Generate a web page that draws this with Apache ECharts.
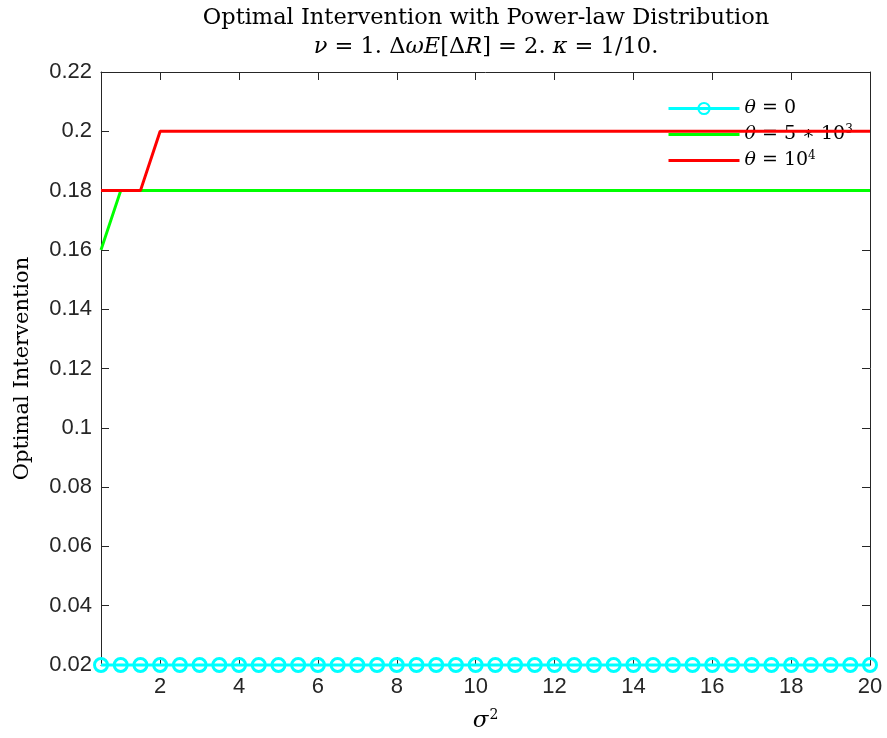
<!DOCTYPE html>
<html>
<head>
<meta charset="utf-8">
<script src="https://cdn.jsdelivr.net/npm/echarts@6/dist/echarts.min.js"></script>
<style>
  html, body { margin: 0; padding: 0; background: #fff; }
  #chart { width: 887px; height: 738px; }
</style>
</head>
<body>
<div id="chart"></div>
<script>
// sigma^2 values
var sigma2 = [0.5, 1, 1.5, 2, 2.5, 3, 3.5, 4, 4.5, 5, 5.5, 6, 6.5, 7, 7.5, 8, 8.5, 9, 9.5, 10,
    10.5, 11, 11.5, 12, 12.5, 13, 13.5, 14, 14.5, 15, 15.5, 16, 16.5, 17, 17.5, 18, 18.5, 19, 19.5, 20];
var theta0 = [0.02, 0.02, 0.02, 0.02, 0.02, 0.02, 0.02, 0.02, 0.02, 0.02, 0.02, 0.02, 0.02, 0.02, 0.02, 0.02, 0.02, 0.02, 0.02, 0.02,
    0.02, 0.02, 0.02, 0.02, 0.02, 0.02, 0.02, 0.02, 0.02, 0.02, 0.02, 0.02, 0.02, 0.02, 0.02, 0.02, 0.02, 0.02, 0.02, 0.02];
var theta5e3 = [0.16, 0.18, 0.18, 0.18, 0.18, 0.18, 0.18, 0.18, 0.18, 0.18, 0.18, 0.18, 0.18, 0.18, 0.18, 0.18, 0.18, 0.18, 0.18, 0.18,
    0.18, 0.18, 0.18, 0.18, 0.18, 0.18, 0.18, 0.18, 0.18, 0.18, 0.18, 0.18, 0.18, 0.18, 0.18, 0.18, 0.18, 0.18, 0.18, 0.18];
var theta1e4 = [0.18, 0.18, 0.18, 0.2, 0.2, 0.2, 0.2, 0.2, 0.2, 0.2, 0.2, 0.2, 0.2, 0.2, 0.2, 0.2, 0.2, 0.2, 0.2, 0.2,
    0.2, 0.2, 0.2, 0.2, 0.2, 0.2, 0.2, 0.2, 0.2, 0.2, 0.2, 0.2, 0.2, 0.2, 0.2, 0.2, 0.2, 0.2, 0.2, 0.2];
var xTicks = [2, 4, 6, 8, 10, 12, 14, 16, 18, 20];
var seriesNames = ['θ = 0', 'θ = 5∗10³', 'θ = 10⁴'];
// legend text with italic theta and superscripts
var legendRich = {
    'θ = 0': '{i|θ} = 0',
    'θ = 5∗10³': '{i|θ} = 5 ∗ 10{s|3}',
    'θ = 10⁴': '{i|θ} = 10{s|4}'
};

function pairs(ys) {
    return sigma2.map(function (x, i) { return [x, ys[i]]; });
}

var axisCol = '#262626';
var serif = '"DejaVu Serif", "Liberation Serif", serif';
var sans = '"Liberation Sans", Arial, sans-serif';

var chart = echarts.init(document.getElementById('chart'));

var xBase = {
    type: 'value',
    min: 0.5,
    max: 20,
    axisLine: {show: true, onZero: false, lineStyle: {color: axisCol, width: 1}},
    axisTick: {show: true, inside: true, length: 8, customValues: xTicks, lineStyle: {color: axisCol}},
    splitLine: {show: false}
};
var yBase = {
    type: 'value',
    min: 0.02,
    max: 0.22,
    interval: 0.02,
    axisLine: {show: true, onZero: false, lineStyle: {color: axisCol, width: 1}},
    axisTick: {show: true, inside: true, length: 8, lineStyle: {color: axisCol}},
    splitLine: {show: false}
};

var option = {
    backgroundColor: '#fff',
    animation: false,
    grid: {left: 101, right: 17, top: 72, bottom: 73, containLabel: false, outerBoundsMode: 'none'},
    graphic: [
        {
            type: 'text', x: 486, y: 7,
            style: {
                text: 'Optimal Intervention with Power-law Distribution',
                font: '22.5px ' + serif, fill: '#000', align: 'center'
            }
        },
        {
            type: 'text', x: 486, y: 36,
            style: {
                text: '{i|ν} = 1. Δ{i|ωE}[Δ{i|R}] = 2. {i|κ} = 1/10.',
                font: '22.5px ' + serif, fill: '#000', align: 'center',
                rich: {i: {fontStyle: 'italic', fontSize: 22.5, fontFamily: serif}}
            }
        }
    ],
    legend: {
        orient: 'vertical',
        left: 662,
        top: 93,
        z: 1,
        itemWidth: 71,
        itemHeight: 14,
        itemGap: 5,
        lineStyle: {width: 3},
        formatter: function (name) { return legendRich[name]; },
        textStyle: {
            fontFamily: serif, fontSize: 19, color: '#000', lineHeight: 21,
            rich: {
                i: {fontStyle: 'italic', fontFamily: serif, fontSize: 19},
                s: {fontFamily: serif, fontSize: 12, verticalAlign: 'top', padding: [0, 0, 10, 0]}
            }
        },
        data: [
            {name: seriesNames[0]},
            {name: seriesNames[1], itemStyle: {opacity: 0}},
            {name: seriesNames[2], itemStyle: {opacity: 0}}
        ]
    },
    xAxis: [
        Object.assign({}, xBase, {
            position: 'bottom',
            name: '{s|σ}{p|2}',
            nameLocation: 'middle',
            nameGap: 43,
            nameTextStyle: {
                rich: {
                    s: {fontFamily: serif, fontSize: 23, fontStyle: 'italic', color: '#000'},
                    p: {fontFamily: serif, fontSize: 14, color: '#000', verticalAlign: 'top', padding: [0, 0, 12, 1]}
                }
            },
            axisLabel: {show: true, customValues: xTicks, fontFamily: sans, fontSize: 22, color: axisCol, margin: 11}
        }),
        Object.assign({}, xBase, {position: 'top', axisLabel: {show: false}})
    ],
    yAxis: [
        Object.assign({}, yBase, {
            position: 'left',
            name: 'Optimal Intervention',
            nameLocation: 'middle',
            nameGap: 68,
            nameTextStyle: {fontFamily: serif, fontSize: 21, color: '#000'},
            axisLabel: {
                show: true, fontFamily: sans, fontSize: 22, color: axisCol, margin: 9,
                formatter: function (v) { return String(+v.toFixed(2)); }
            }
        }),
        Object.assign({}, yBase, {position: 'right', axisLabel: {show: false}})
    ],
    series: [
        {
            name: seriesNames[0],
            type: 'line',
            data: pairs(theta0),
            clip: false,
            symbol: 'circle',
            symbolSize: 13,
            showSymbol: true,
            lineStyle: {color: '#00ffff', width: 3},
            itemStyle: {color: 'rgba(255,255,255,0)', borderColor: '#00ffff', borderWidth: 3},
            z: 3
        },
        {
            name: seriesNames[1],
            type: 'line',
            data: pairs(theta5e3),
            showSymbol: false,
            symbol: 'none',
            lineStyle: {color: '#00ff00', width: 3},
            itemStyle: {color: '#00ff00'},
            z: 4
        },
        {
            name: seriesNames[2],
            type: 'line',
            data: pairs(theta1e4),
            showSymbol: false,
            symbol: 'none',
            lineStyle: {color: '#ff0000', width: 3},
            itemStyle: {color: '#ff0000'},
            z: 5
        }
    ]
};

chart.setOption(option);
</script>
</body>
</html>
